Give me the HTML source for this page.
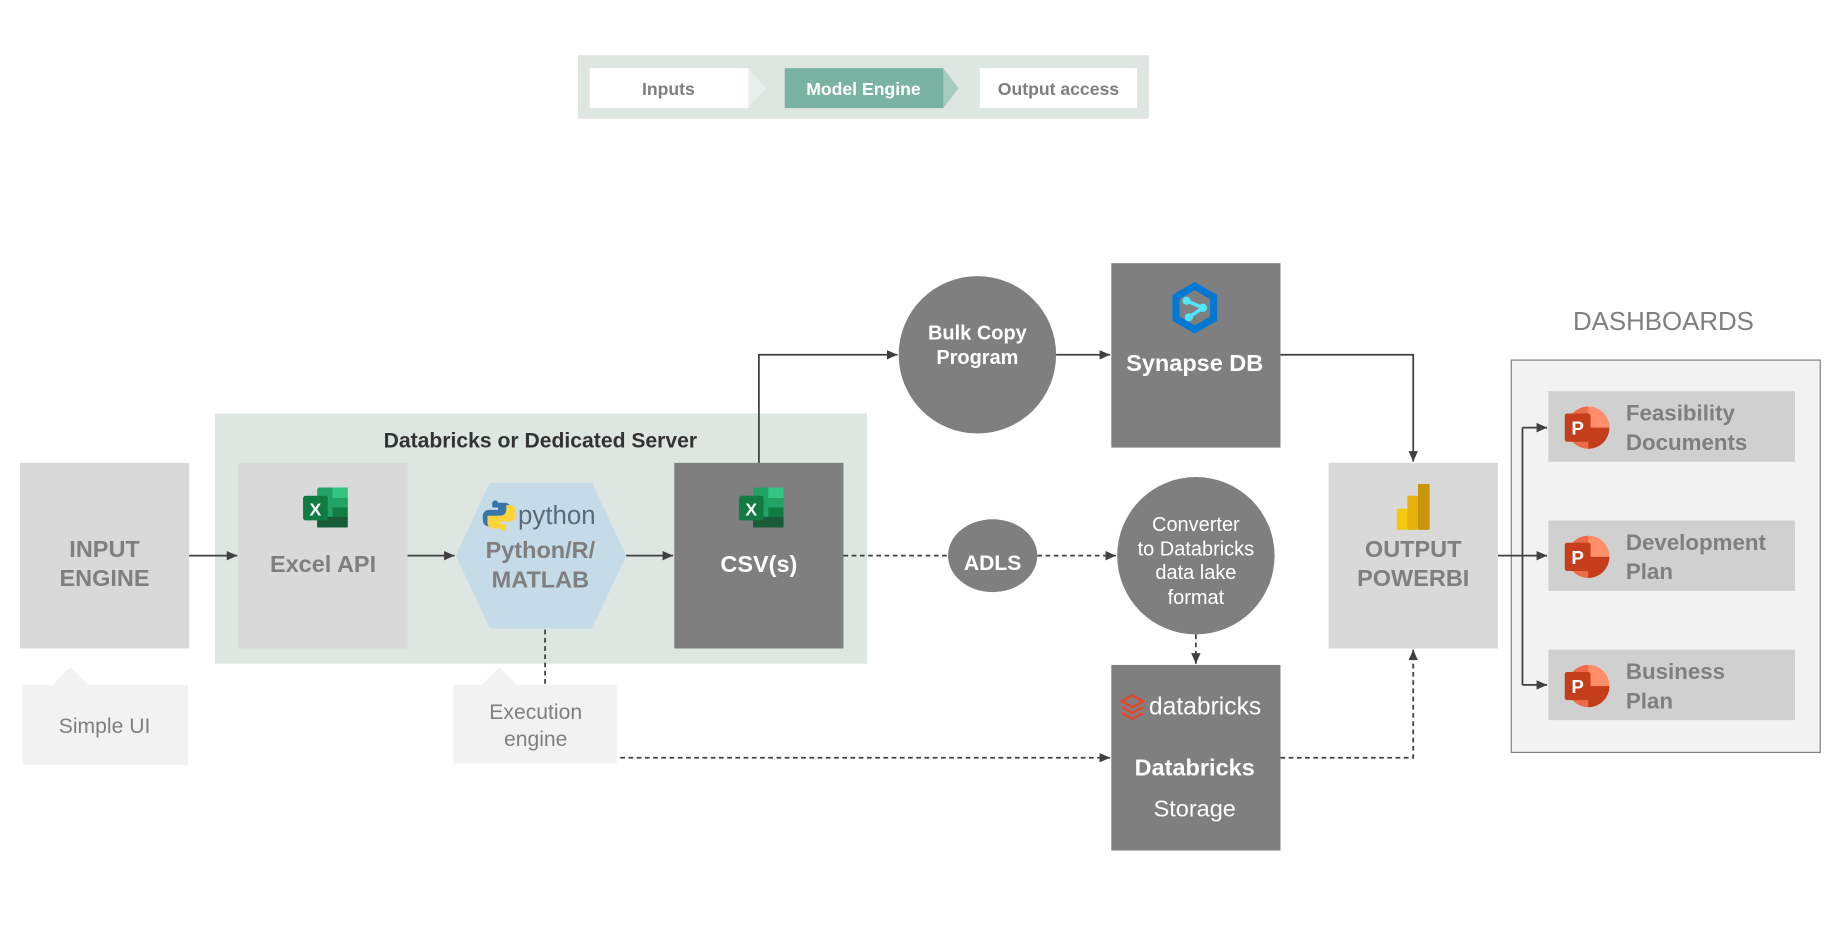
<!DOCTYPE html>
<html><head><meta charset="utf-8"><style>
html,body{margin:0;padding:0;background:#fff;}
svg{display:block;}
text{font-family:"Liberation Sans",Arial,sans-serif;}
</style></head><body>
<svg width="1842" height="937" viewBox="0 0 1568 797.6" preserveAspectRatio="none" xmlns="http://www.w3.org/2000/svg">
<defs>
<marker id="a" markerWidth="10" markerHeight="10" refX="9" refY="5" orient="auto" markerUnits="userSpaceOnUse"><path d="M0,1 L9,5 L0,9 Z" fill="#404040"/></marker>
<g id="xl">
<rect x="4" y="0" width="26" height="34" rx="2" fill="#21a366"/>
<rect x="17" y="0" width="13" height="9" fill="#33c481"/>
<rect x="17" y="9" width="13" height="8" fill="#21a366"/>
<rect x="17" y="17" width="13" height="8" fill="#107c41"/>
<rect x="4" y="25" width="26" height="9" fill="#185c37"/>
<rect x="-8" y="7" width="21" height="21" rx="2" fill="#107c41"/>
<text x="2.5" y="24" font-size="15" font-weight="bold" fill="#fff" text-anchor="middle">X</text>
</g>
<g id="pp">
<circle cx="8" cy="0" r="18" fill="#ed6c47"/>
<path d="M8,0 L8,-18 A18,18 0 0 1 26,0 Z" fill="#ff8f6b"/>
<path d="M8,0 L26,0 A18,18 0 0 1 8,18 Z" fill="#c43e1c"/>
<rect x="-12" y="-12" width="22" height="24" rx="2" fill="#c43e1c"/>
<text x="-1" y="6" font-size="16" font-weight="bold" fill="#fff" text-anchor="middle">P</text>
</g>
</defs>

<!-- legend -->
<rect x="492" y="47" width="486" height="54" fill="#dde6e1"/>
<path d="M637,58 L652,75 L637,92 Z" fill="#e8eeeb"/>
<path d="M803,58 L816,75 L803,92 Z" fill="#a7cbbd"/>
<rect x="502" y="58" width="135" height="34" fill="#fff"/>
<rect x="668" y="58" width="135" height="34" fill="#7ab3a1"/>
<rect x="834" y="58" width="134" height="34" fill="#fff"/>
<text x="569" y="81" font-size="15" font-weight="bold" fill="#7f7f7f" text-anchor="middle">Inputs</text>
<text x="735" y="81" font-size="15" font-weight="bold" fill="#fff" text-anchor="middle">Model Engine</text>
<text x="901" y="81" font-size="15" font-weight="bold" fill="#7f7f7f" text-anchor="middle">Output access</text>

<!-- container -->
<rect x="183" y="352" width="555" height="213" fill="#dde6e1"/>
<text x="460" y="381" font-size="18" font-weight="bold" fill="#333" text-anchor="middle">Databricks or Dedicated Server</text>

<!-- input engine -->
<rect x="17" y="394" width="144" height="158" fill="#d9d9d9"/>
<text x="89" y="474" font-size="20" font-weight="bold" fill="#7f7f7f" text-anchor="middle">INPUT</text>
<text x="89" y="499" font-size="20" font-weight="bold" fill="#7f7f7f" text-anchor="middle">ENGINE</text>
<path d="M19,583 L45,583 L60,568 L75,583 L160,583 L160,651 L19,651 Z" fill="#f2f2f2"/>
<text x="89" y="624" font-size="18" fill="#7f7f7f" text-anchor="middle">Simple UI</text>

<!-- excel api -->
<rect x="203" y="394" width="144" height="158" fill="#d9d9d9"/>
<use href="#xl" x="266" y="415"/>
<text x="275" y="487" font-size="20" font-weight="bold" fill="#7f7f7f" text-anchor="middle">Excel API</text>

<!-- python hex -->
<polygon points="388,473 417,411 504,411 533,473 504,535 417,535" fill="#c5dbe8"/>
<g transform="translate(425,439)">
<path d="M-1,-11 h6 a5,5 0 0 1 5,5 v6 h-11 a5,5 0 0 0 -5,5 v4 h-3 a5,5 0 0 1 -5,-5 v-4 a5,5 0 0 1 5,-5 h8 v-2 h-5 v-3 a2,2 0 0 1 5,-1 Z" fill="#3776ab"/>
<path d="M1,11 h-6 a5,5 0 0 1 -5,-5 v-6 h11 a5,5 0 0 0 5,-5 v-4 h3 a5,5 0 0 1 5,5 v4 a5,5 0 0 1 -5,5 h-8 v2 h5 v3 a2,2 0 0 1 -5,1 Z" fill="#ffd43b"/>
</g>
<text x="441" y="446" font-size="22" fill="#5a6b78">python</text>
<text x="460" y="475" font-size="20" font-weight="bold" fill="#7f7f7f" text-anchor="middle">Python/R/</text>
<text x="460" y="500" font-size="20" font-weight="bold" fill="#7f7f7f" text-anchor="middle">MATLAB</text>
<path d="M386,583 L410,583 L425,568 L440,583 L525,583 L525,650 L386,650 Z" fill="#f2f2f2"/>
<text x="456" y="612" font-size="18" fill="#7f7f7f" text-anchor="middle">Execution</text>
<text x="456" y="635" font-size="18" fill="#7f7f7f" text-anchor="middle">engine</text>
<line x1="464" y1="536" x2="464" y2="583" stroke="#404040" stroke-width="1.5" stroke-dasharray="4,3"/>

<!-- csv -->
<rect x="574" y="394" width="144" height="158" fill="#7f7f7f"/>
<use href="#xl" x="637" y="415"/>
<text x="646" y="487" font-size="20" font-weight="bold" fill="#fff" text-anchor="middle">CSV(s)</text>

<!-- solid arrows -->
<g stroke="#404040" stroke-width="1.5" fill="none">
<line x1="161" y1="473" x2="202" y2="473" marker-end="url(#a)"/>
<line x1="347" y1="473" x2="387" y2="473" marker-end="url(#a)"/>
<line x1="533" y1="473" x2="573" y2="473" marker-end="url(#a)"/>
<polyline points="646,394 646,302 764,302" marker-end="url(#a)"/>
<line x1="899" y1="302" x2="945" y2="302" marker-end="url(#a)"/>
<polyline points="1090,302 1203,302 1203,393" marker-end="url(#a)"/>
<line x1="1275" y1="473" x2="1317" y2="473" marker-end="url(#a)"/>
<polyline points="1317,364 1296,364 1296,583 1317,583"/>
<line x1="1296" y1="364" x2="1317" y2="364" marker-end="url(#a)"/>
<line x1="1296" y1="583" x2="1317" y2="583" marker-end="url(#a)"/>
</g>
<!-- dashed -->
<g stroke="#404040" stroke-width="1.5" fill="none" stroke-dasharray="4,3">
<line x1="718" y1="473" x2="808" y2="473"/>
<line x1="883" y1="473" x2="950" y2="473" marker-end="url(#a)"/>
<line x1="1018" y1="540" x2="1018" y2="565" marker-end="url(#a)"/>
<line x1="528" y1="645" x2="945" y2="645" marker-end="url(#a)"/>
<polyline points="1090,645 1203,645 1203,553" marker-end="url(#a)"/>
</g>

<!-- bulk copy -->
<circle cx="832" cy="302" r="67" fill="#7f7f7f"/>
<text x="832" y="289" font-size="17" font-weight="bold" fill="#fff" text-anchor="middle">Bulk Copy</text>
<text x="832" y="310" font-size="17" font-weight="bold" fill="#fff" text-anchor="middle">Program</text>

<!-- synapse -->
<rect x="946" y="224" width="144" height="157" fill="#7f7f7f"/>
<g transform="translate(1017,262)">
<polygon points="0,-22 19,-11 19,11 0,22 -19,11 -19,-11" fill="#0078d4"/>
<polygon points="0,-15 13,-7.5 13,7.5 0,15 -13,7.5 -13,-7.5" fill="#7f7f7f"/>
<path d="M-7,-6 L7,0 L-5,8" stroke="#50e6ff" stroke-width="3" fill="none"/>
<circle cx="-7" cy="-6" r="3.5" fill="#50e6ff"/><circle cx="7" cy="0" r="3.5" fill="#50e6ff"/><circle cx="-5" cy="8" r="3.5" fill="#50e6ff"/>
</g>
<text x="1017" y="316" font-size="20" font-weight="bold" fill="#fff" text-anchor="middle">Synapse DB</text>

<!-- adls -->
<ellipse cx="845" cy="473" rx="38" ry="31" fill="#7f7f7f"/>
<text x="845" y="485" font-size="18" font-weight="bold" fill="#fff" text-anchor="middle">ADLS</text>

<!-- converter -->
<circle cx="1018" cy="473" r="67" fill="#7f7f7f"/>
<g font-size="17" fill="#fff" text-anchor="middle">
<text x="1018" y="452">Converter</text>
<text x="1018" y="473">to Databricks</text>
<text x="1018" y="493">data lake</text>
<text x="1018" y="514">format</text>
</g>

<!-- databricks -->
<rect x="946" y="566" width="144" height="158" fill="#7f7f7f"/>
<g transform="translate(964,601)" stroke="#e8442d" stroke-width="2" fill="none">
<path d="M-9,-4 L0,-9 L9,-4 L0,1 Z"/><path d="M-9,1 L0,6 L9,1"/><path d="M-9,6 L0,11 L9,6"/>
</g>
<text x="978" y="608" font-size="21" fill="#fff">databricks</text>
<text x="1017" y="660" font-size="20" font-weight="bold" fill="#fff" text-anchor="middle">Databricks</text>
<text x="1017" y="695" font-size="20" fill="#fff" text-anchor="middle">Storage</text>

<!-- output -->
<rect x="1131" y="394" width="144" height="158" fill="#d9d9d9"/>
<rect x="1189" y="433" width="9" height="18" rx="1" fill="#f2c811"/>
<rect x="1198" y="422" width="9" height="29" rx="1" fill="#e8b00f"/>
<rect x="1207" y="412" width="10" height="39" rx="1" fill="#c99509"/>
<text x="1203" y="474" font-size="20" font-weight="bold" fill="#7f7f7f" text-anchor="middle">OUTPUT</text>
<text x="1203" y="499" font-size="20" font-weight="bold" fill="#7f7f7f" text-anchor="middle">POWERBI</text>

<!-- dashboards -->
<text x="1416" y="281" font-size="22" fill="#7f7f7f" text-anchor="middle">DASHBOARDS</text>
<rect x="1286.5" y="306.5" width="263" height="334" fill="#f2f2f2" stroke="#7f7f7f" stroke-width="1"/>
<rect x="1318" y="333" width="210" height="60" fill="#d0d0d0"/>
<rect x="1318" y="443" width="210" height="60" fill="#d0d0d0"/>
<rect x="1318" y="553" width="210" height="60" fill="#d0d0d0"/>
<line x1="1296" y1="364" x2="1317" y2="364" stroke="#404040" stroke-width="1.5" marker-end="url(#a)"/>
<line x1="1286" y1="473" x2="1317" y2="473" stroke="#404040" stroke-width="1.5" marker-end="url(#a)"/>
<line x1="1296" y1="583" x2="1317" y2="583" stroke="#404040" stroke-width="1.5" marker-end="url(#a)"/>
<line x1="1296" y1="364" x2="1296" y2="583" stroke="#404040" stroke-width="1.5"/>
<use href="#pp" x="1344" y="364"/>
<use href="#pp" x="1344" y="474"/>
<use href="#pp" x="1344" y="584"/>
<g font-size="19" font-weight="bold" fill="#7f7f7f">
<text x="1384" y="358">Feasibility</text>
<text x="1384" y="383">Documents</text>
<text x="1384" y="468">Development</text>
<text x="1384" y="493">Plan</text>
<text x="1384" y="578">Business</text>
<text x="1384" y="603">Plan</text>
</g>
</svg>
</body></html>
